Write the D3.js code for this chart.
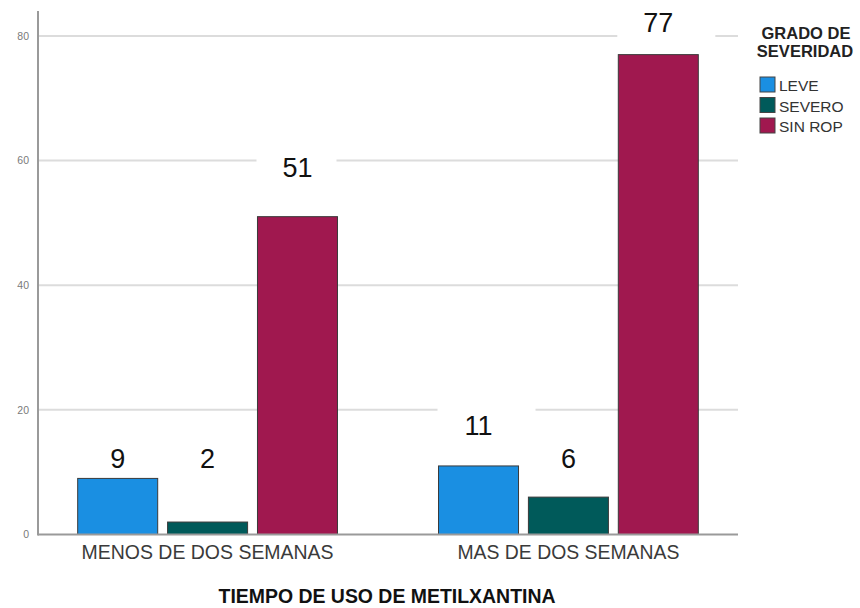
<!DOCTYPE html>
<html>
<head>
<meta charset="utf-8">
<script src="https://cdn.jsdelivr.net/npm/d3@7"></script>
<style>
  html, body { margin: 0; padding: 0; background: #fff; }
  svg { display: block; font-family: "Liberation Sans", Arial, sans-serif; }
</style>
</head>
<body>
<svg id="chart" width="860" height="608"></svg>
<script>
// Categories, series and counts
const categories = ["MENOS DE DOS SEMANAS", "MAS DE DOS SEMANAS"];
const series = ["LEVE", "SEVERO", "SIN ROP"];
const leve = [9, 11];
const severo = [2, 6];
const sinRop = [51, 77];
const yTicks = [0, 20, 40, 60, 80];
const colors = ["#1a8fe2", "#005a5a", "#a0184f"];
// Height (in count units) at which each value label is centred
const labelLevels = [[12.3, 12.3, 59], [17.6, 12.2, 82.2]];

const values = [leve, severo, sinRop];
const data = categories.map((c, i) => ({
  cat: c,
  bars: series.map((s, j) => ({ s, j, v: values[j][i], level: labelLevels[i][j] }))
}));

const svg = d3.select("#chart");
const plotLeft = 38, plotRight = 738, plotBottom = 534.5, plotTop = 11;

const x0 = d3.scaleBand().domain(categories).range([plotLeft, plotRight])
  .paddingInner(0.28).paddingOuter(0.11);
const x1 = d3.scaleBand().domain(series).range([0, x0.bandwidth()])
  .paddingInner(0.11).paddingOuter(0);
const y = d3.scaleLinear().domain([0, 84]).range([plotBottom, plotTop]);

// Gridlines
svg.append("g").selectAll("line").data(yTicks.filter(t => t > 0)).join("line")
  .attr("x1", plotLeft).attr("x2", plotRight)
  .attr("y1", d => y(d)).attr("y2", d => y(d))
  .attr("stroke", "#dcdcdc").attr("stroke-width", 2);

// Y axis
const yAxis = d3.axisLeft(y).tickValues(yTicks).tickSize(0).tickPadding(9);
const gy = svg.append("g").attr("transform", `translate(${plotLeft},0)`).call(yAxis);
gy.select(".domain").remove();
gy.selectAll("text").attr("font-size", 10.5).attr("fill", "#7a7a7a")
  .attr("font-family", "'Liberation Sans', Arial, sans-serif");
svg.append("line").attr("x1", plotLeft).attr("x2", plotLeft).attr("y1", plotTop).attr("y2", plotBottom + 1)
  .attr("stroke", "#9a9a9a").attr("stroke-width", 2);

const groups = svg.append("g").selectAll("g").data(data).join("g")
  .attr("transform", d => `translate(${x0(d.cat)},0)`);

// White panels behind the value labels (they break the gridlines)
groups.selectAll("rect.bg").data(d => d.bars).join("rect").attr("class", "bg")
  .attr("x", d => x1(d.s) - 1)
  .attr("width", d => x1.bandwidth() + (d.v > 40 && d.v < 60 ? 0 : 18))
  .attr("y", d => y(d.level) - 19)
  .attr("height", 38)
  .attr("fill", "#fff");

// Bars
groups.selectAll("rect.bar").data(d => d.bars).join("rect").attr("class", "bar")
  .attr("x", d => x1(d.s))
  .attr("width", x1.bandwidth())
  .attr("y", d => y(d.v))
  .attr("height", d => y(0) - y(d.v))
  .attr("fill", d => colors[d.j])
  .attr("stroke", "#3a3a3a").attr("stroke-width", 1);

// Value labels
groups.selectAll("text.val").data(d => d.bars).join("text").attr("class", "val")
  .attr("x", d => x1(d.s) + x1.bandwidth() / 2)
  .attr("y", d => y(d.level))
  .attr("dy", "0.36em")
  .attr("text-anchor", "middle")
  .attr("font-size", 27)
  .attr("fill", "#111")
  .text(d => d.v);

// Baseline
svg.append("line").attr("x1", plotLeft).attr("x2", plotRight).attr("y1", plotBottom).attr("y2", plotBottom)
  .attr("stroke", "#9a9a9a").attr("stroke-width", 2);

// Category labels
const xAxis = d3.axisBottom(x0).tickSize(0).tickPadding(10);
const gx = svg.append("g").attr("transform", `translate(0,${plotBottom})`).call(xAxis);
gx.select(".domain").remove();
gx.selectAll("text")
  .attr("font-size", 20).attr("fill", "#3a3a3a")
  .attr("font-family", "'Liberation Sans', Arial, sans-serif")
  .attr("dy", "0.71em")
  .attr("textLength", d => d === categories[0] ? 252 : 222)
  .attr("lengthAdjust", "spacingAndGlyphs");

// Axis title
svg.append("text").attr("x", 387).attr("y", 603)
  .attr("text-anchor", "middle").attr("font-size", 21).attr("font-weight", "bold")
  .attr("fill", "#111")
  .attr("textLength", 337).attr("lengthAdjust", "spacingAndGlyphs")
  .text("TIEMPO DE USO DE METILXANTINA");

// Legend
const lg = svg.append("g");
lg.append("text").attr("x", 806).attr("y", 39).attr("text-anchor", "middle")
  .attr("font-size", 16.5).attr("font-weight", "bold").attr("fill", "#222")
  .text("GRADO DE");
lg.append("text").attr("x", 805).attr("y", 57).attr("text-anchor", "middle")
  .attr("font-size", 16.5).attr("font-weight", "bold").attr("fill", "#222")
  .text("SEVERIDAD");
const items = lg.selectAll("g.item").data(series).join("g").attr("class", "item")
  .attr("transform", (d, i) => `translate(760,${77 + i * 20.5})`);
items.append("rect").attr("width", 15).attr("height", 15)
  .attr("fill", (d, i) => colors[i]).attr("stroke", "#444").attr("stroke-width", 1);
items.append("text").attr("x", 19).attr("y", 14).attr("font-size", 15.5)
  .attr("fill", "#333").text(d => d);
</script>
</body>
</html>
